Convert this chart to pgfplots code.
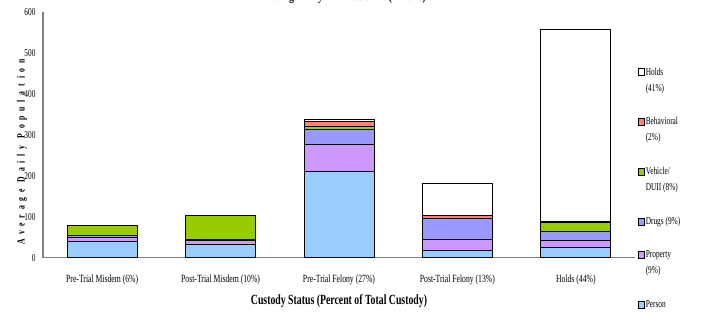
\documentclass[border=0pt]{standalone}
\usepackage{fontspec}
\setmainfont{Liberation Serif}[FakeStretch=0.7]
\usepackage{pgfplots}
\usepackage{pgfplotstable}
\pgfplotsset{compat=1.18}
\definecolor{cPerson}{HTML}{99CCFF}
\definecolor{cProperty}{HTML}{CC99FF}
\definecolor{cDrugs}{HTML}{9999FF}
\definecolor{cVehicle}{HTML}{99CC00}
\definecolor{cBehav}{HTML}{FF8080}
\definecolor{cHolds}{HTML}{FFFFFF}
\definecolor{axgray}{HTML}{808080}
\pgfplotstableread{
x person property drugs vehicle behav holds
0 39 10 5 25 0 0
1 33 8 4 58 0 0
2 211 65 37 6 14 3
3 17 28 50 1 8 76
4 26 15 22 24 2 468
}\custody
\pgfplotsset{
  twoline/.style={legend image code/.code={\draw[##1, line width=0.6bp] (0bp,4.5bp) rectangle (6bp,11.5bp);}},
}
\begin{document}
\begin{tikzpicture}
\begin{axis}[
  at={(43bp,54.3bp)}, anchor=south west,
  scale only axis, width=592bp, height=246bp,
  xmin=-0.5, xmax=4.5, ymin=0, ymax=600,
  ybar stacked, bar width=70bp,
  axis x line*=bottom, axis y line*=left,
  axis line style={-, axgray, line width=1.3bp},
  xtick={0,1,2,3,4},
  xticklabels={Pre-Trial Misdem (6\%), Post-Trial Misdem (10\%), Pre-Trial Felony (27\%), Post-Trial Felony (13\%), Holds (44\%)},
  ytick={0,100,...,600},
  major tick length=0pt,
  /pgf/number format/assume math mode=true,
  xticklabel style={font=\fontsize{11bp}{13bp}\selectfont, yshift=-14bp},
  yticklabel style={font=\fontsize{10.5bp}{12bp}\selectfont, xshift=-4bp},
  xlabel={\textbf{Custody Status (Percent of Total Custody)}},
  xlabel style={font=\fontsize{14bp}{16bp}\selectfont, at={(axis description cs:0.5,-0.175)}, anchor=center},
  ylabel={\addfontfeature{LetterSpace=44}Average Daily Population},
  ylabel style={font=\bfseries\fontsize{11bp}{13bp}\selectfont, at={(axis description cs:-0.0355,0.43)}, anchor=center},
  every axis plot/.append style={draw=black, line width=0.9bp},
  reverse legend,
  legend cell align=left,
  legend style={draw=none, fill=none, at={(axis description cs:1.0,0.785)}, anchor=north west,
    font=\fontsize{10.5bp}{16bp}\selectfont, row sep=23bp,
    nodes={align=left, inner sep=1bp}},
  legend image code/.code={\draw[#1, line width=0.6bp] (0bp,-3.5bp) rectangle (6bp,3.5bp);},
]
\addplot[fill=cPerson, twoline] table[x=x, y=person]{\custody};
\addlegendentry{Person\\(31\%)}
\addplot[fill=cProperty, twoline] table[x=x, y=property]{\custody};
\addlegendentry{Property\\(9\%)}
\addplot[fill=cDrugs] table[x=x, y=drugs]{\custody};
\addlegendentry{Drugs (9\%)}
\addplot[fill=cVehicle, twoline] table[x=x, y=vehicle]{\custody};
\addlegendentry{Vehicle/\\DUII (8\%)}
\addplot[fill=cBehav, twoline] table[x=x, y=behav]{\custody};
\addlegendentry{Behavioral\\(2\%)}
\addplot[fill=cHolds, twoline] table[x=x, y=holds]{\custody};
\addlegendentry{Holds\\(41\%)}
\end{axis}
\node[font=\bfseries\fontsize{14bp}{16bp}\selectfont] at (345bp,315bp) {Average Daily Bed Use: June (n=1326)};
\pgfresetboundingbox
\useasboundingbox (0,0) rectangle (701bp,312bp);
\end{tikzpicture}
\end{document}
